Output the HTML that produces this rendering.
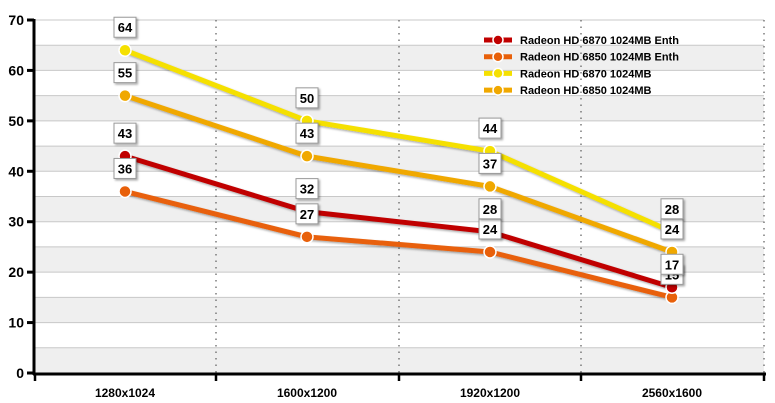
<!DOCTYPE html>
<html><head><style>body{margin:0;background:#fff}svg{display:block}text{font-family:"Liberation Sans",Arial,sans-serif;font-weight:bold}</style></head><body>
<svg width="775" height="403" viewBox="0 0 775 403" xmlns="http://www.w3.org/2000/svg">
<defs><filter id="sh" x="-30%" y="-30%" width="160%" height="160%"><feDropShadow dx="1.5" dy="1.5" stdDeviation="1" flood-color="#000" flood-opacity="0.35"/></filter></defs>
<g id="bands"></g>
<script>
(function(){
var s=document.currentScript.ownerSVGElement||document.querySelector('svg');
var ns="http://www.w3.org/2000/svg";
function el(n,a,p){var e=document.createElementNS(ns,n);for(var k in a)e.setAttribute(k,a[k]);(p||s).appendChild(e);return e;}
function Y(v){return 373-v*5.043;}
var L=35,R=764;
for(var i=0;i<14;i++){var v0=i*5;if(i%2==0)el('rect',{x:L,y:Y(v0+5),width:R-L,height:Y(v0)-Y(v0+5),fill:'#efefef'});}
for(var v=5;v<=70;v+=5)el('line',{x1:L,x2:R,y1:Y(v),y2:Y(v),stroke:'#c8c8c8','stroke-width':1});
[216,399,581,764].forEach(function(x){el('line',{x1:x,x2:x,y1:20,y2:373,stroke:'#666','stroke-width':1.3,'stroke-dasharray':'1.5,5'});});
el('line',{x1:34,x2:34,y1:19,y2:375,stroke:'#000','stroke-width':3});
el('line',{x1:33,x2:766,y1:374,y2:374,stroke:'#000','stroke-width':3});
for(var v=0;v<=70;v+=10){el('line',{x1:27,x2:34,y1:Y(v),y2:Y(v),stroke:'#000','stroke-width':3});var t=el('text',{x:24,y:Y(v)+5,'text-anchor':'end','font-size':14});t.textContent=v;}
[35,216,399,581,764].forEach(function(x){el('line',{x1:x,x2:x,y1:373,y2:381,stroke:'#000','stroke-width':2.5});});
var xs=[125,307,490,672],cats=['1280x1024','1600x1200','1920x1200','2560x1600'];
cats.forEach(function(c,i){var t=el('text',{x:xs[i],y:397,'text-anchor':'middle','font-size':12});t.textContent=c;});
var series=[
{n:'Radeon HD 6850 1024MB',c:'#f0a800',d:[55,43,37,24]},
{n:'Radeon HD 6870 1024MB',c:'#f5e000',d:[64,50,44,28]},
{n:'Radeon HD 6850 1024MB Enth',c:'#e8600a',d:[36,27,24,15]},
{n:'Radeon HD 6870 1024MB Enth',c:'#c00000',d:[43,32,28,17]}];
series.forEach(function(se){
var pts=se.d.map(function(v,i){return (xs[i])+','+Y(v);}).join(' ');
el('polyline',{points:pts,fill:'none',stroke:se.c,'stroke-width':5,filter:'url(#sh)'});
se.d.forEach(function(v,i){el('circle',{cx:xs[i],cy:Y(v),r:6,fill:se.c,stroke:'#fff','stroke-width':1.5});});
});
series.forEach(function(se){se.d.forEach(function(v,i){
var cy=Y(v)-23;el('rect',{x:xs[i]-11,y:cy-10,width:22,height:20,fill:'#fff',stroke:'#999','stroke-width':1,filter:'url(#sh)'});
var t=el('text',{x:xs[i],y:cy+5,'text-anchor':'middle','font-size':13});t.textContent=v;});});
var leg=[['Radeon HD 6870 1024MB Enth','#c00000'],['Radeon HD 6850 1024MB Enth','#e8600a'],['Radeon HD 6870 1024MB','#f5e000'],['Radeon HD 6850 1024MB','#f0a800']];
leg.forEach(function(l,i){var y=40+i*16.7;
el('line',{x1:484,x2:512,y1:y,y2:y,stroke:l[1],'stroke-width':5});
el('circle',{cx:498,cy:y,r:5,fill:l[1],stroke:'#fff','stroke-width':1.5});
var t=el('text',{x:520,y:y+4,'font-size':11});t.textContent=l[0];});
})();
</script>
</svg>
</body></html>
